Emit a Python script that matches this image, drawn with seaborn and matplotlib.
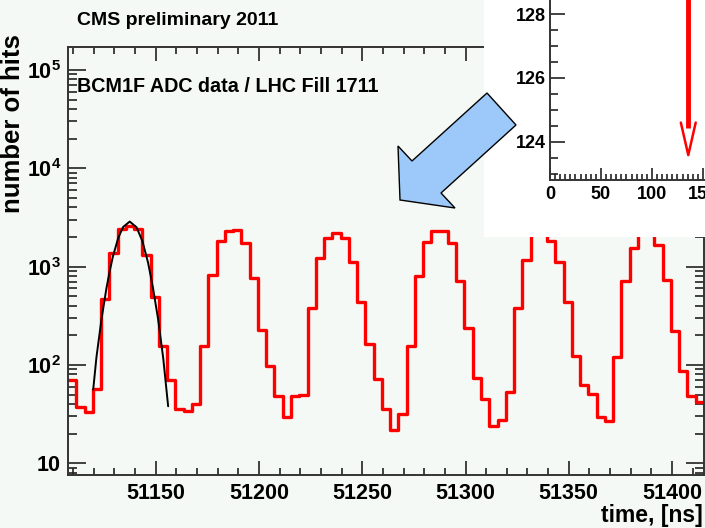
import numpy as np
import pandas as pd
import matplotlib
matplotlib.use("Agg")
import matplotlib.pyplot as plt
import seaborn as sns
from matplotlib.patches import Polygon, Rectangle
from matplotlib.ticker import (MultipleLocator, FixedLocator, FixedFormatter,
                               LogLocator, NullFormatter)

# ---------------- data ----------------
bin_start = 51107.5     # ns, left edge of first bin
bin_width = 4.0         # ns
hits = [70, 37, 33.5, 57, 466, 1387, 2400, 2592, 2400, 1315,
        495, 157, 70, 35.4, 34, 40, 157, 817, 1823, 2323,
        2360, 1755, 773, 227, 98, 48.4, 29.8, 48.4, 49.5, 378,
        1216, 1972, 2187, 1972, 1124, 441, 164, 72, 35.6, 21.8,
        31.5, 154, 809, 1771, 2305, 2305, 1755, 721, 236, 74,
        45, 24, 27.6, 52.7, 378, 1169, 2200, 2250, 1837, 1124,
        434, 124, 62.7, 50.7, 29.8, 26.9, 121, 716, 1538, 2150,
        2150, 1663, 733, 222, 87, 48.4, 42.4]

# fitted curve on the first bunch
fit_time = [51119.7, 51121.3, 51123.7, 51126.1, 51127.7, 51129.3, 51131.8, 51134.2,
            51137.4, 51140.7, 51143.6, 51146.3, 51148.7, 51151.1, 51153.6, 51156.0]
fit_hits = [56, 121, 290, 600, 900, 1280, 1950, 2530,
            2870, 2510, 1800, 1090, 600, 295, 118, 38]

x_major_ticks = [51150, 51200, 51250, 51300, 51350, 51400]
y_major_ticks = [10, 100, 1000, 10000, 100000]
y_tick_labels = ["10", r"$10^{2}$", r"$10^{3}$", r"$10^{4}$", r"$10^{5}$"]

inset_y_ticks = [124, 126, 128]
inset_x_ticks = [0, 50, 100, 150]
inset_marker_x = 135.6
inset_marker_top = 129.0
inset_marker_tip = 123.58

title_text = "CMS preliminary 2011"
subtitle_text = "BCM1F ADC data / LHC Fill 1711"
xlabel_text = "time, [ns]"
ylabel_text = "number of hits"

# ---------------- style ----------------
sns.set_style("ticks")
bg = "#f5f9f5"
plt.rcParams["font.family"] = ["Liberation Sans", "DejaVu Sans"]
plt.rcParams["font.weight"] = "bold"
plt.rcParams["text.color"] = "black"
plt.rcParams["xtick.color"] = "black"
plt.rcParams["ytick.color"] = "black"
plt.rcParams["axes.labelcolor"] = "black"
plt.rcParams["mathtext.fontset"] = "custom"
plt.rcParams["mathtext.rm"] = "Liberation Sans:bold"
plt.rcParams["mathtext.bf"] = "Liberation Sans:bold"
plt.rcParams["mathtext.it"] = "Liberation Sans:bold:italic"
plt.rcParams["mathtext.default"] = "rm"

W, H = 705, 528
fig = plt.figure(figsize=(W / 100, H / 100), dpi=100)
fig.patch.set_facecolor(bg)

ax = fig.add_axes([68 / W, 1 - 475 / H, 636 / W, 428 / H])
ax.set_facecolor(bg)

edges = (bin_start + bin_width * np.arange(len(hits) + 1)).tolist()
centers = [e + bin_width / 2 for e in edges[:-1]]
df = pd.DataFrame({"time": centers, "hits": hits})
sns.histplot(data=df, x="time", weights="hits", bins=edges, element="step",
             fill=False, color="#ff0000", linewidth=2.4, ax=ax)
fit_df = pd.DataFrame({"time": fit_time, "hits": fit_hits})
sns.lineplot(data=fit_df, x="time", y="hits", color="black", linewidth=1.4,
             sort=False, estimator=None, ax=ax)

ax.set_yscale("log")
ax.set_xlim(bin_start, bin_start + bin_width * len(hits))
ax.set_ylim(7.6, 1.71e5)
ax.set_xlabel("")
ax.set_ylabel("")

ax.xaxis.set_major_locator(FixedLocator(x_major_ticks))
ax.xaxis.set_minor_locator(MultipleLocator(10))
ax.yaxis.set_major_locator(FixedLocator(y_major_ticks))
ax.yaxis.set_major_formatter(FixedFormatter(y_tick_labels))
ax.yaxis.set_minor_locator(LogLocator(base=10, subs=np.arange(2, 10)))
ax.yaxis.set_minor_formatter(NullFormatter())

ax.tick_params(which="both", direction="in", top=True, right=True,
               color="#222222", labelcolor="black", width=1.2)
ax.tick_params(axis="x", which="major", length=10, labelsize=15.5, pad=6)
ax.tick_params(axis="x", which="minor", length=5)
ax.tick_params(axis="y", which="major", length=13, labelsize=15.5, pad=5)
ax.tick_params(axis="y", which="minor", length=6.5)
for s in ax.spines.values():
    s.set_color("#333333")
    s.set_linewidth(1.4)
for lab in ax.get_xticklabels() + ax.get_yticklabels():
    lab.set_fontweight("bold")

# texts
fig.text(77 / W, 1 - 25 / H, title_text, fontsize=14, fontweight="bold",
         va="baseline", ha="left", color="black")
fig.text(77 / W, 1 - 92 / H, subtitle_text, fontsize=14.2, fontweight="bold",
         va="baseline", ha="left", color="black")
fig.text(703 / W, 1 - 522 / H, xlabel_text, fontsize=16.5, fontweight="bold",
         ha="right", va="baseline", color="black")
fig.text(25 / W, 1 - 34 / H, ylabel_text, fontsize=18.5, fontweight="bold",
         rotation=90, ha="right", va="top", color="black")

# blue arrow (annotation)
arrow_px = [(516, 125), (441, 193), (455, 208), (400, 200), (398, 146),
            (412, 161), (487, 93)]
arrow = Polygon([(x / W, 1 - y / H) for x, y in arrow_px], closed=True,
                transform=fig.transFigure, facecolor="#9cc9fa",
                edgecolor="black", linewidth=1.0, zorder=5)

# inset white panel
panel = Rectangle((484 / W, 1 - 237 / H), 1 - 484 / W, 237 / H,
                  transform=fig.transFigure, facecolor="white",
                  edgecolor="none", zorder=3)
fig.add_artist(panel)
fig.add_artist(arrow)

iax = fig.add_axes([550 / W, 1 - 180 / H, (W - 550) / W, 180 / H], zorder=4)
iax.set_facecolor("white")
iax.set_xlim(0, 152)
iax.set_ylim(122.8, 128.44)
iax.spines["top"].set_visible(False)
iax.spines["right"].set_visible(False)
for s in ("left", "bottom"):
    iax.spines[s].set_color("#333333")
    iax.spines[s].set_linewidth(1.4)
iax.xaxis.set_major_locator(FixedLocator(inset_x_ticks))
iax.xaxis.set_minor_locator(MultipleLocator(5))
iax.yaxis.set_major_locator(FixedLocator(inset_y_ticks))
iax.yaxis.set_minor_locator(MultipleLocator(0.5))
iax.tick_params(which="both", direction="in", color="#222222",
                labelcolor="black", width=1.2, labelsize=13)
iax.tick_params(axis="x", which="major", length=9, pad=4)
iax.tick_params(axis="x", which="minor", length=4)
iax.tick_params(axis="y", which="major", length=11, pad=3)
iax.tick_params(axis="y", which="minor", length=5.5)
for lab in iax.get_xticklabels() + iax.get_yticklabels():
    lab.set_fontweight("bold")

# red marker arrow in inset
iax.plot([inset_marker_x, inset_marker_x], [inset_marker_top, 124.43],
         color="#ff0000", linewidth=3.5, solid_capstyle="butt", clip_on=False)
iax.plot([inset_marker_x - 7.3, inset_marker_x, inset_marker_x + 7.3],
         [124.6, inset_marker_tip, 124.6], color="#ff0000", linewidth=1.8,
         clip_on=False)

fig.savefig("out.png", dpi=100, facecolor=fig.get_facecolor())
